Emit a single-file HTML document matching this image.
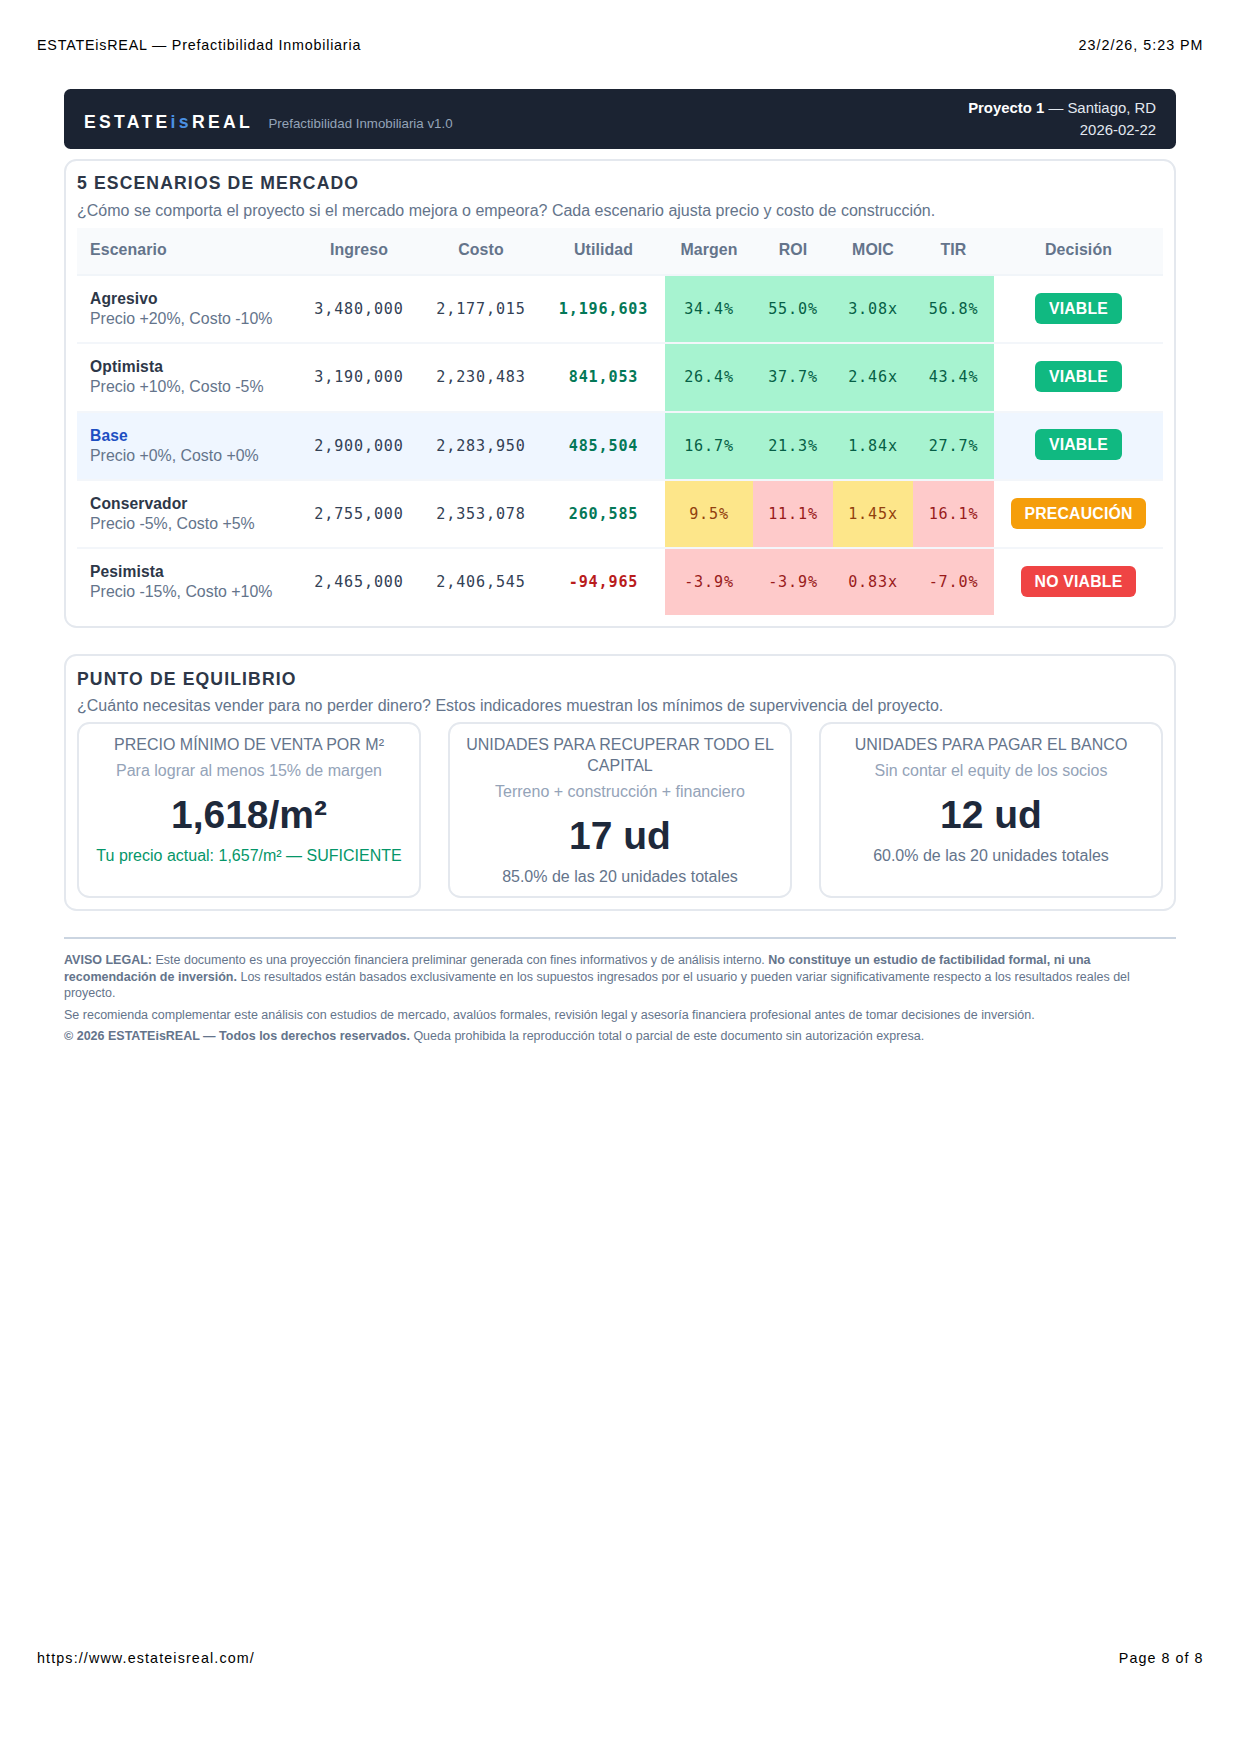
<!DOCTYPE html>
<html lang="es">
<head>
<meta charset="utf-8">
<title>ESTATEisREAL — Prefactibilidad Inmobiliaria</title>
<style>
*{box-sizing:border-box;margin:0;padding:0}
html,body{width:1241px;height:1754px;background:#fff;overflow:hidden}
body{position:relative;font-family:"Liberation Sans",Arial,sans-serif;color:#1e293b}
.ph{position:absolute;font-size:14.3px;color:#000;letter-spacing:.78px;white-space:nowrap;line-height:18px}
.bar{position:absolute;left:64px;top:89px;width:1112px;height:60px;background:#1b2332;border-radius:6.5px;color:#fff}
.logo{position:absolute;left:20px;top:22.5px;font-weight:bold;font-size:17.6px;letter-spacing:3.3px;line-height:20px;white-space:nowrap}
.logo i{font-style:normal;color:#4a90e2}
.ver{position:absolute;left:204.5px;top:26.5px;font-size:13.3px;color:#94a3b8;line-height:16px;white-space:nowrap}
.proj{position:absolute;right:20px;top:8px;text-align:right;font-size:14.9px;line-height:22px;color:#e2e8f0;white-space:nowrap}
.proj b{color:#fff}
.card{position:absolute;left:64px;width:1112px;border:2px solid #e4e8ee;border-radius:12.5px;background:#fff}
h2{position:absolute;left:11px;font-size:17.6px;letter-spacing:1.13px;color:#2d3748;line-height:22px;white-space:nowrap}
.sub{position:absolute;left:11px;font-size:16px;color:#64748b;line-height:20px;white-space:nowrap}
table{position:absolute;left:11px;top:67px;width:1086px;border-collapse:collapse;table-layout:fixed}
th{height:47px;background:#f8fafc;color:#64748b;font-size:15.9px;letter-spacing:.1px;padding-bottom:2px;font-weight:bold;text-align:center;border-bottom:2px solid #f1f5f9}
th:first-child,td:first-child{text-align:left;padding-left:13px}
td{height:68.3px;text-align:center;vertical-align:middle;border-bottom:2px solid #f3f6fa;font-family:"DejaVu Sans Mono","Liberation Mono",monospace;font-size:15.1px;letter-spacing:.85px;padding-top:0;color:#334155;white-space:nowrap}
tr:last-child td{border-bottom:none;height:67.3px}
td:first-child{font-family:"Liberation Sans",Arial,sans-serif;letter-spacing:0;padding-top:0}
.nm{display:block;font-weight:bold;font-size:15.6px;letter-spacing:.12px;position:relative;top:-.2px;line-height:20px;color:#2d3748}
.ds{display:block;font-size:15.9px;line-height:20px;color:#64748b}
tr.base td{background:#eff6ff}
tr.base .nm{color:#1e4fc2}
.u{font-weight:bold;color:#047857}
.u.neg{color:#b91c1c}
td.g{background:#a7f3d0 !important;color:#065f46}
td.y{background:#fde68a !important;color:#92400e}
td.r{background:#fecaca !important;color:#991b1b}
.bd{display:inline-block;font-family:"Liberation Sans",Arial,sans-serif;font-weight:bold;font-size:15.8px;color:#fff;padding:0 13.5px;height:31px;line-height:31px;border-radius:6px;letter-spacing:.2px;position:relative;top:-1px}
.bd.v{background:#10b981}.bd.p{background:#f59e0b}.bd.n{background:#ef4444}
.kpi{position:absolute;top:66px;width:344px;height:176px;border:2px solid #e4e8ee;border-radius:12.5px;text-align:center}
.kpi .t{font-size:16px;color:#64748b;line-height:21px;margin-top:9.7px;padding:0 10px}
.kpi .s{font-size:16px;color:#94a3b8;line-height:20px;margin-top:6.6px}
.kpi .v{font-size:39px;font-weight:bold;color:#1e293b;line-height:44px;margin-top:11.5px}
.kpi .f{font-size:16px;color:#64748b;line-height:20px;margin-top:9.5px}
.kpi .f.ok{color:#059669}
.legal{position:absolute;left:64px;top:937px;width:1112px;border-top:2px solid #cbd5e1;padding-top:13px;font-size:12.5px;line-height:16.5px;color:#64748b}
.legal p{margin-bottom:5px}
.legal b{color:#64748b}
</style>
</head>
<body>
<div class="ph" style="left:37px;top:36px;letter-spacing:.8px">ESTATEisREAL — Prefactibilidad Inmobiliaria</div>
<div class="ph" style="right:37.5px;top:36px;letter-spacing:1px">23/2/26, 5:23 PM</div>

<div class="bar">
  <div class="logo">ESTATE<i>is</i>REAL</div>
  <div class="ver">Prefactibilidad Inmobiliaria v1.0</div>
  <div class="proj"><b>Proyecto 1</b> — Santiago, RD<br>2026-02-22</div>
</div>

<div class="card" style="top:159px;height:469px">
  <h2 style="top:11px">5 ESCENARIOS DE MERCADO</h2>
  <div class="sub" style="top:40px">¿Cómo se comporta el proyecto si el mercado mejora o empeora? Cada escenario ajusta precio y costo de construcción.</div>
  <table>
    <colgroup><col style="width:221px"><col style="width:122px"><col style="width:122px"><col style="width:123px"><col style="width:88px"><col style="width:80px"><col style="width:80px"><col style="width:81px"><col style="width:169px"></colgroup>
    <tr><th>Escenario</th><th>Ingreso</th><th>Costo</th><th>Utilidad</th><th>Margen</th><th>ROI</th><th>MOIC</th><th>TIR</th><th>Decisión</th></tr>
    <tr><td><span class="nm">Agresivo</span><span class="ds">Precio +20%, Costo -10%</span></td><td>3,480,000</td><td>2,177,015</td><td class="u">1,196,603</td><td class="g">34.4%</td><td class="g">55.0%</td><td class="g">3.08x</td><td class="g">56.8%</td><td><span class="bd v">VIABLE</span></td></tr>
    <tr><td><span class="nm">Optimista</span><span class="ds">Precio +10%, Costo -5%</span></td><td>3,190,000</td><td>2,230,483</td><td class="u">841,053</td><td class="g">26.4%</td><td class="g">37.7%</td><td class="g">2.46x</td><td class="g">43.4%</td><td><span class="bd v">VIABLE</span></td></tr>
    <tr class="base"><td><span class="nm">Base</span><span class="ds">Precio +0%, Costo +0%</span></td><td>2,900,000</td><td>2,283,950</td><td class="u">485,504</td><td class="g">16.7%</td><td class="g">21.3%</td><td class="g">1.84x</td><td class="g">27.7%</td><td><span class="bd v">VIABLE</span></td></tr>
    <tr><td><span class="nm">Conservador</span><span class="ds">Precio -5%, Costo +5%</span></td><td>2,755,000</td><td>2,353,078</td><td class="u">260,585</td><td class="y">9.5%</td><td class="r">11.1%</td><td class="y">1.45x</td><td class="r">16.1%</td><td><span class="bd p">PRECAUCIÓN</span></td></tr>
    <tr><td><span class="nm">Pesimista</span><span class="ds">Precio -15%, Costo +10%</span></td><td>2,465,000</td><td>2,406,545</td><td class="u neg">-94,965</td><td class="r">-3.9%</td><td class="r">-3.9%</td><td class="r">0.83x</td><td class="r">-7.0%</td><td><span class="bd n">NO VIABLE</span></td></tr>
  </table>
</div>

<div class="card" style="top:654px;height:257px">
  <h2 style="top:12px">PUNTO DE EQUILIBRIO</h2>
  <div class="sub" style="top:40px">¿Cuánto necesitas vender para no perder dinero? Estos indicadores muestran los mínimos de supervivencia del proyecto.</div>
  <div class="kpi" style="left:11px">
    <div class="t">PRECIO MÍNIMO DE VENTA POR M²</div>
    <div class="s">Para lograr al menos 15% de margen</div>
    <div class="v">1,618/m²</div>
    <div class="f ok">Tu precio actual: 1,657/m² — SUFICIENTE</div>
  </div>
  <div class="kpi" style="left:382px">
    <div class="t">UNIDADES PARA RECUPERAR TODO EL CAPITAL</div>
    <div class="s">Terreno + construcción + financiero</div>
    <div class="v">17 ud</div>
    <div class="f">85.0% de las 20 unidades totales</div>
  </div>
  <div class="kpi" style="left:753px">
    <div class="t">UNIDADES PARA PAGAR EL BANCO</div>
    <div class="s">Sin contar el equity de los socios</div>
    <div class="v">12 ud</div>
    <div class="f">60.0% de las 20 unidades totales</div>
  </div>
</div>

<div class="legal">
  <p><b>AVISO LEGAL:</b> Este documento es una proyección financiera preliminar generada con fines informativos y de análisis interno. <b>No constituye un estudio de factibilidad formal, ni una recomendación de inversión.</b> Los resultados están basados exclusivamente en los supuestos ingresados por el usuario y pueden variar significativamente respecto a los resultados reales del proyecto.</p>
  <p>Se recomienda complementar este análisis con estudios de mercado, avalúos formales, revisión legal y asesoría financiera profesional antes de tomar decisiones de inversión.</p>
  <p><b>© 2026 ESTATEisREAL — Todos los derechos reservados.</b> Queda prohibida la reproducción total o parcial de este documento sin autorización expresa.</p>
</div>

<div class="ph" style="left:37px;top:1649px;letter-spacing:1.13px">https://www.estateisreal.com/</div>
<div class="ph" style="right:37.5px;top:1649px;letter-spacing:1.05px">Page 8 of 8</div>
</body>
</html>
